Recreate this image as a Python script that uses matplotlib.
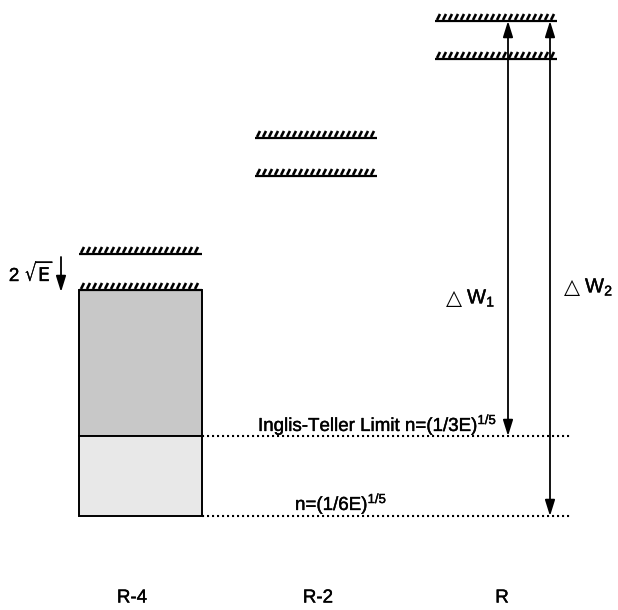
import numpy as np
import matplotlib
matplotlib.use("Agg")
import matplotlib.pyplot as plt
import matplotlib.patheffects as pe
from matplotlib.patches import Rectangle, FancyArrowPatch
from matplotlib.collections import LineCollection

plt.rcParams['font.family'] = ['Liberation Sans', 'DejaVu Sans']
plt.rcParams['mathtext.fontset'] = 'custom'
plt.rcParams['mathtext.rm'] = 'Liberation Sans'
plt.rcParams['mathtext.it'] = 'Liberation Sans:italic'

# Данные схемы (координаты в единицах рисунка, ось y вниз)
columns = ['R-4', 'R-2', 'R']
col_left = [79, 255, 435]
col_right = [202, 377, 557]
label_x = [132, 318, 502]
upper_level = [254, 138, 21]
lower_level = [290, 176, 59]
inglis_teller = 436   # n=(1/3E)^(1/5)
n_sixth = 516         # n=(1/6E)^(1/5)
dw1_x, dw2_x = 508, 550

fig = plt.figure(figsize=(6.18, 6.10), dpi=100)
ax = fig.add_axes([0, 0, 1, 1])
ax.set_xlim(0, 618)
ax.set_ylim(610, 0)
ax.axis('off')

# чуть более жирный текст, как на скане
thick = [pe.withStroke(linewidth=0.3, foreground='k')]


def hatched(x0, x1, y):
    # уровень со штриховкой сверху
    ax.plot([x0, x1], [y, y], color='k', lw=1.6, solid_capstyle='butt')
    xs = np.arange(x0 + 2, x1 - 1, 6.0)
    segs = [[(x, y - 1), (x + 3, y - 7)] for x in xs]
    ax.add_collection(LineCollection(segs, colors='k', linewidths=1.9))


for i in range(len(columns)):
    hatched(col_left[i], col_right[i], upper_level[i])
    hatched(col_left[i], col_right[i], lower_level[i])
    ax.text(label_x[i], 598, columns[i], ha='center', va='center', fontsize=13.5,
            path_effects=thick)

# Заштрихованная область для R-4
w = col_right[0] - col_left[0]
ax.add_patch(Rectangle((col_left[0], lower_level[0]), w, inglis_teller - lower_level[0],
                       fc='#c8c8c8', ec='k', lw=1.4, zorder=1))
ax.add_patch(Rectangle((col_left[0], inglis_teller), w, n_sixth - inglis_teller,
                       fc='#e8e8e8', ec='k', lw=1.4, zorder=1))

# Пунктирные линии
for y in [inglis_teller, n_sixth]:
    ax.plot([col_right[0], 570], [y, y], color='k', lw=1.5, linestyle=(0, (1, 1.4)))

# Стрелки ΔW1 и ΔW2
for x, y1 in [(dw1_x, inglis_teller), (dw2_x, n_sixth)]:
    ax.add_patch(FancyArrowPatch((x, upper_level[2]), (x, y1),
                                 arrowstyle='<|-|>,head_length=0.8,head_width=0.25',
                                 mutation_scale=12, color='k', lw=1.3,
                                 shrinkA=0, shrinkB=0))

# Стрелка 2√E
ax.add_patch(FancyArrowPatch((61, 257), (61, 292),
                             arrowstyle='-|>,head_length=0.8,head_width=0.25',
                             mutation_scale=12, color='k', lw=1.3,
                             shrinkA=0, shrinkB=0))

ax.text(54, 273, r'2 $\sqrt{\mathrm{E}}$', ha='right', va='center', fontsize=13.5,
        math_fontfamily='dejavusans', path_effects=thick)
ax.text(258, 431, r'Inglis-Teller Limit n=(1/3E)$^{1/5}$', va='baseline', fontsize=13.5,
        path_effects=thick)
ax.text(295, 510, r'n=(1/6E)$^{1/5}$', va='baseline', fontsize=13.5, path_effects=thick)

# ΔW подписи
for tx, ty, sub in [(446, 298, '1'), (564, 287, '2')]:
    ax.text(tx, ty, '△', va='center', fontsize=15, family='DejaVu Sans')
    ax.text(tx + 21, ty, 'W$_' + sub + '$', va='center', fontsize=14.5, path_effects=thick)

fig.savefig('out.png', dpi=100)
